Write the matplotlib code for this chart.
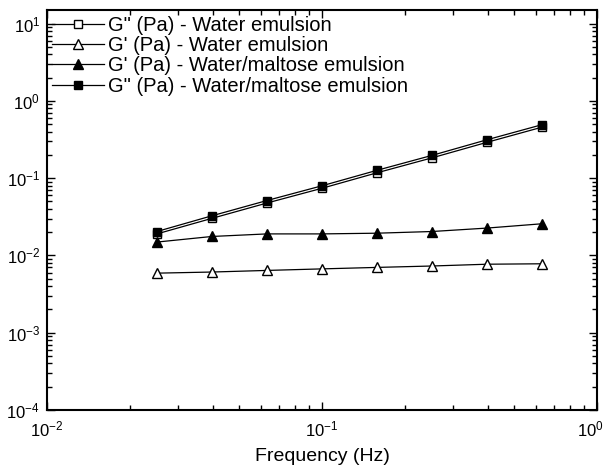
import matplotlib
matplotlib.use("Agg")
import matplotlib.pyplot as plt
import matplotlib.transforms as mtransforms
from matplotlib.ticker import LogLocator, LogFormatterSciNotation, NullFormatter

plt.rcParams['font.family'] = ['Liberation Sans', 'DejaVu Sans']
plt.rcParams['mathtext.fontset'] = 'custom'
plt.rcParams['mathtext.rm'] = 'Liberation Sans'
plt.rcParams['mathtext.default'] = 'regular'

# Data
freq_hz = [0.0251, 0.0398, 0.0631, 0.100, 0.158, 0.251, 0.398, 0.631]
g2_water = [0.0190, 0.0302, 0.0477, 0.0740, 0.117, 0.183, 0.291, 0.457]
g1_water = [0.0059, 0.0061, 0.0064, 0.0067, 0.0070, 0.0073, 0.0077, 0.0078]
g1_maltose = [0.0149, 0.0176, 0.0190, 0.0190, 0.0194, 0.0204, 0.0226, 0.0257]
g2_maltose = [0.0204, 0.0326, 0.0514, 0.0797, 0.126, 0.197, 0.314, 0.492]

labels = ['G" (Pa) - Water emulsion',
          "G' (Pa) - Water emulsion",
          "G' (Pa) - Water/maltose emulsion",
          'G" (Pa) - Water/maltose emulsion']

fig = plt.figure(figsize=(6.08, 4.70), dpi=100)
ax = fig.add_axes([47/608, 60/470, 550/608, 400/470])

lw = 0.9
sq = 5.5
tr = 7.0
h1, = ax.plot(freq_hz, g2_water, '-s', color='black', lw=lw, ms=sq, mfc='white', mec='black', mew=1.0, label=labels[0])
h2, = ax.plot(freq_hz, g1_water, '-^', color='black', lw=lw, ms=tr, mfc='white', mec='black', mew=1.0, label=labels[1])
h3, = ax.plot(freq_hz, g1_maltose, '-^', color='black', lw=lw, ms=tr, mfc='black', mec='black', mew=1.0, label=labels[2])
h4, = ax.plot(freq_hz, g2_maltose, '-s', color='black', lw=lw, ms=sq, mfc='black', mec='black', mew=1.0, label=labels[3])

ax.set_xscale('log')
ax.set_yscale('log')
ax.set_xlim(1e-2, 1e0)
ax.set_ylim(1e-4, 15)

ax.xaxis.set_major_locator(LogLocator(base=10, numticks=10))
ax.yaxis.set_major_locator(LogLocator(base=10, numticks=10))
ax.xaxis.set_minor_locator(LogLocator(base=10, subs=range(2, 10), numticks=20))
ax.yaxis.set_minor_locator(LogLocator(base=10, subs=range(2, 10), numticks=20))
ax.xaxis.set_major_formatter(LogFormatterSciNotation())
ax.yaxis.set_major_formatter(LogFormatterSciNotation())
ax.xaxis.set_minor_formatter(NullFormatter())
ax.yaxis.set_minor_formatter(NullFormatter())

ax.tick_params(which='both', direction='in', top=True, right=True, width=1.0)
ax.tick_params(which='major', length=6, labelsize=12)
ax.tick_params(axis='x', which='major', pad=7)
ax.tick_params(axis='y', which='major', pad=5)
ax.tick_params(which='minor', length=3.5)
for s in ax.spines.values():
    s.set_linewidth(1.5)

ax.set_xlabel('Frequency (Hz)', fontsize=14, labelpad=6)

leg = ax.legend(handles=[h1, h2, h3, h4], loc='upper left', bbox_to_anchor=(0.009, 0.985),
                frameon=False, fontsize=14.5, handlelength=2.6, handletextpad=0.2,
                labelspacing=0.06, borderpad=0.0, borderaxespad=0.0, numpoints=1)

# keep the rightmost x tick label inside the canvas
fig.canvas.draw()
for tick in ax.xaxis.get_major_ticks():
    if abs(tick.get_loc() - 1.0) < 1e-9:
        lab = tick.label1
        lab.set_transform(lab.get_transform() +
                          mtransforms.ScaledTranslation(-5/72, 0, fig.dpi_scale_trans))

fig.savefig('out.png', dpi=100)
